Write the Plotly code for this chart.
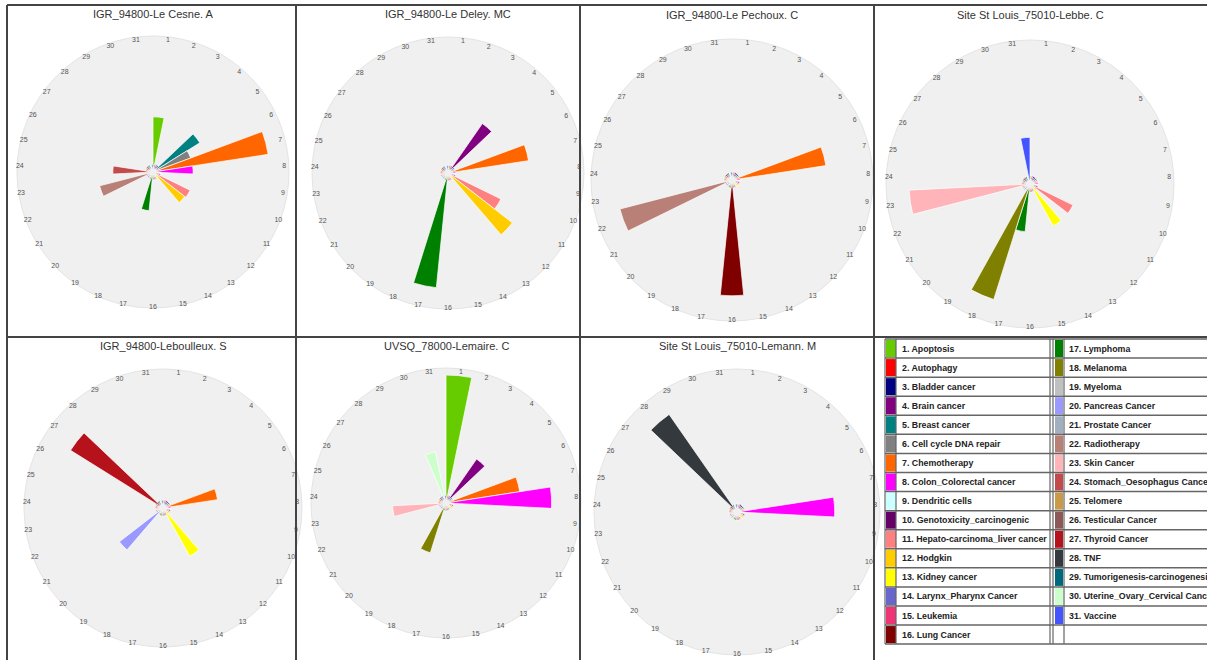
import plotly.graph_objects as go

W, H = 1207, 660

categories = [
    "Apoptosis", "Autophagy", "Bladder cancer", "Brain cancer", "Breast cancer",
    "Cell cycle DNA repair", "Chemotherapy", "Colon_Colorectal cancer", "Dendritic cells",
    "Genotoxicity_carcinogenic", "Hepato-carcinoma_liver cancer", "Hodgkin", "Kidney cancer",
    "Larynx_Pharynx Cancer", "Leukemia", "Lung Cancer", "Lymphoma", "Melanoma", "Myeloma",
    "Pancreas Cancer", "Prostate Cancer", "Radiotherapy", "Skin Cancer",
    "Stomach_Oesophagus Cancer", "Telomere", "Testicular Cancer", "Thyroid Cancer", "TNF",
    "Tumorigenesis-carcinogenesis", "Uterine_Ovary_Cervical Cancer", "Vaccine",
]
colors = [
    "#66cc00", "#ff0000", "#000080", "#800080", "#008080", "#808080", "#ff6600", "#ff00ff",
    "#ccffff", "#660066", "#ff8080", "#ffcc00", "#ffff00", "#6666cc", "#f03375", "#800000",
    "#008000", "#808000", "#c0c0c0", "#9999ff", "#a0b0c0", "#b98078", "#ffb4ba", "#c24a4a",
    "#c99a48", "#8c5858", "#b5121b", "#33393d", "#00687c", "#ccffcc", "#4455ff",
]
tick_labels = [str(i + 1) for i in range(31)]

titles = [
    "IGR_94800-Le Cesne. A", "IGR_94800-Le Deley. MC", "IGR_94800-Le Pechoux. C",
    "Site St Louis_75010-Lebbe. C", "IGR_94800-Leboulleux. S", "UVSQ_78000-Lemaire. C",
    "Site St Louis_75010-Lemann. M",
]

le_cesne = [41, 0, 0, 0, 41, 29, 90, 29, 0, 0, 30, 29, 0, 0, 0, 0, 28, 0, 0, 0, 0, 41, 0, 29, 0, 0, 0, 0, 0, 0, 0]
le_deley = [0, 0, 0, 45, 0, 0, 62, 0, 0, 0, 44, 62, 0, 0, 0, 0, 89, 0, 0, 0, 0, 0, 0, 0, 0, 0, 0, 0, 0, 0, 0]
le_pechoux = [0, 0, 0, 0, 0, 0, 70, 0, 0, 0, 0, 0, 0, 0, 0, 86, 0, 0, 0, 0, 0, 86, 0, 0, 0, 0, 0, 0, 0, 0, 0]
lebbe = [0, 0, 0, 0, 0, 0, 0, 0, 0, 0, 33, 0, 33, 0, 0, 0, 33, 88, 0, 0, 0, 0, 88, 0, 0, 0, 0, 0, 0, 0, 32]
leboulleux = [0, 0, 0, 0, 0, 0, 40, 0, 0, 0, 0, 0, 40, 0, 0, 0, 0, 0, 0, 40, 0, 0, 0, 0, 0, 0, 82, 0, 0, 0, 0]
lemaire = [100, 0, 0, 40, 0, 0, 57, 82, 0, 0, 0, 0, 0, 0, 0, 0, 0, 39, 0, 0, 0, 0, 40, 0, 0, 0, 0, 0, 0, 39, 0]
lemann = [0, 0, 0, 0, 0, 0, 0, 71, 0, 0, 0, 0, 0, 0, 0, 0, 0, 0, 0, 0, 0, 0, 0, 0, 0, 0, 0, 87, 0, 0, 0]

series = [le_cesne, le_deley, le_pechoux, lebbe, leboulleux, lemaire, lemann]

# layout of each chart: centre x, centre y, disc radius (pixels), title y
geo = [
    (153, 172, 136, 14), (448, 173, 136, 14), (732, 180, 141, 15), (1030, 184, 144, 15),
    (163, 508, 139, 346), (446, 503, 135, 346), (737, 512, 143, 346),
]

N = len(categories)
step = 360.0 / N
theta = [(i + 0.5) * step for i in range(N)]
RING = 3  # minimum visible bar height (small coloured ring round the centre)

FONT = "Liberation Sans, Arial, sans-serif"


def px(x):
    return x / W


def py(y):
    return 1 - y / H


fig = go.Figure()
shapes = []
annotations = []

for k, (vals, (cx, cy, R, ty)) in enumerate(zip(series, geo)):
    name = "polar" if k == 0 else f"polar{k + 1}"
    rd = R - 7
    fig.add_trace(go.Barpolar(
        r=[max(v, RING) for v in vals],
        theta=theta,
        width=step,
        marker=dict(color=colors, line=dict(color="white", width=0.7)),
        subplot=name,
        showlegend=False,
        text=categories,
        hoverinfo="text+r",
    ))
    fig.update_layout(**{name: dict(
        domain=dict(x=[px(cx - rd), px(cx + rd)], y=[py(cy + rd), py(cy - rd)]),
        bgcolor="rgba(0,0,0,0)",
        hole=0.03,
        radialaxis=dict(visible=False, range=[0, 100]),
        angularaxis=dict(
            tickmode="array", tickvals=theta, ticktext=tick_labels,
            rotation=90, direction="clockwise", showgrid=False, showline=False,
            ticks="", tickfont=dict(size=7, color="#555", family=FONT),
        ),
    )})
    shapes.append(dict(
        type="circle", xref="paper", yref="paper", layer="below",
        x0=px(cx - R), x1=px(cx + R), y0=py(cy + R), y1=py(cy - R),
        fillcolor="#f0f0f0", line=dict(color="#e4e4e4", width=1),
    ))
    annotations.append(dict(
        text=titles[k], x=px(cx), y=py(ty), xref="paper", yref="paper",
        showarrow=False, xanchor="center", yanchor="middle",
        font=dict(size=11, color="#333", family=FONT),
    ))

# cell borders
LC = "#444"
for (x0, y0, x1, y1) in [
    (7, 5, 1207, 5), (7, 5, 7, 660), (296, 5, 296, 660), (580, 5, 580, 660),
    (874, 5, 874, 660), (7, 337, 1207, 337),
]:
    shapes.append(dict(type="line", xref="paper", yref="paper", x0=px(x0), y0=py(y0),
                       x1=px(x1), y1=py(y1), line=dict(color=LC, width=2)))

# legend table
top = 339
rh = 19.07
rows = 16
box_x = [(886, 896), (1055, 1063)]
text_x = [900, 1067]
for i in range(rows * 2):
    col, row = divmod(i, rows)
    y0 = top + row * rh
    y1 = y0 + rh
    c = colors[i] if i < N else "white"
    shapes.append(dict(type="rect", xref="paper", yref="paper",
                       x0=px(box_x[col][0]), x1=px(box_x[col][1]),
                       y0=py(y1 - 1), y1=py(y0 + 1), fillcolor=c, line=dict(width=0)))
    if i < N:
        annotations.append(dict(
            text=f"<b>{i + 1}. {categories[i]}</b>", x=px(text_x[col]), y=py((y0 + y1) / 2),
            xref="paper", yref="paper", showarrow=False, xanchor="left", yanchor="middle",
            font=dict(size=8.8, color="#222", family=FONT),
        ))
for r_ in range(rows + 1):
    y = top + r_ * rh
    shapes.append(dict(type="line", xref="paper", yref="paper", x0=px(885), x1=px(1207),
                       y0=py(y), y1=py(y), line=dict(color="#666", width=1.5)))
for x in [885, 896, 1050, 1053, 1064]:
    shapes.append(dict(type="line", xref="paper", yref="paper", x0=px(x), x1=px(x),
                       y0=py(top), y1=py(top + rows * rh), line=dict(color="#666", width=1.2)))

fig.update_layout(
    width=W, height=H, margin=dict(l=0, r=0, t=0, b=0),
    paper_bgcolor="white", plot_bgcolor="white",
    shapes=shapes, annotations=annotations,
    font=dict(family=FONT),
)

fig.write_html(
    "out.html",
    config={"displayModeBar": False},
    post_script="document.body.style.margin='0';document.body.style.overflow='hidden';",
)
